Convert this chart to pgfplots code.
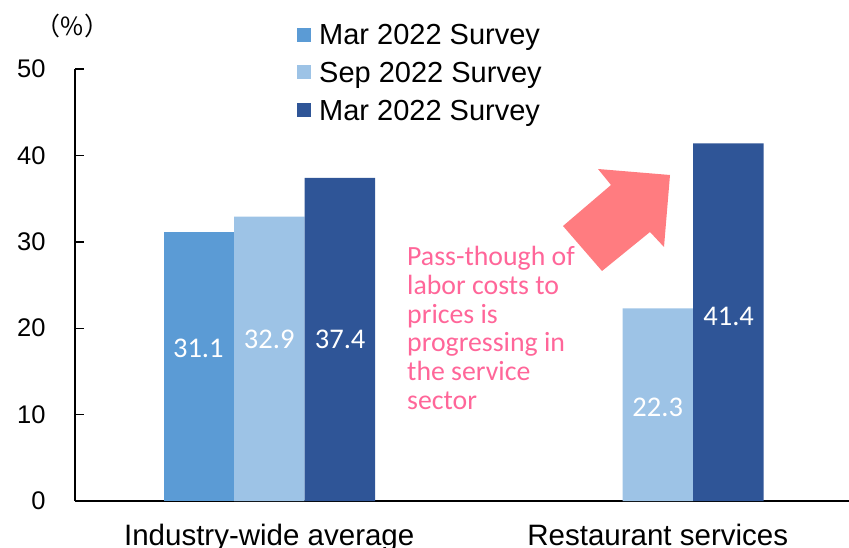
\documentclass[border=0pt]{standalone}
\usepackage{fontspec}
\setmainfont{Liberation Sans}
\newfontfamily\calf{Carlito}
\newfontfamily\cjkf{Noto Sans CJK JP}
\usepackage{pgfplots}
\pgfplotsset{compat=1.18}
\definecolor{cA}{HTML}{5B9BD5}
\definecolor{cB}{HTML}{9DC3E6}
\definecolor{cC}{HTML}{2F5597}
\definecolor{arrowc}{HTML}{FF7C80}
\definecolor{pinktxt}{HTML}{FF6699}
\pgfplotsset{sqleg/.style={legend image code/.code={\fill[##1] (0pt,-6pt) rectangle (14pt,8pt);}}}
\begin{document}
\begin{tikzpicture}[x=1pt,y=1pt]
\path[use as bounding box] (0,0) rectangle (849,-548);
\begin{axis}[
 at={(75pt,-501pt)}, anchor=south west,
 scale only axis, width=777pt, height=432pt,
 xmin=-0.5, xmax=1.5, ymin=0, ymax=50,
 axis x line*=bottom, axis y line*=left,
 axis line style={line width=1.4pt, black},
 ybar=0pt, bar width=70.5pt,
 xtick={0,1}, xticklabels={Industry-wide average, Restaurant services},
 xtick style={draw=none},
 ytick={0,10,20,30,40,50},
 tick align=inside, major tick length=9pt,
 ytick style={line width=1.4pt, black},
 yticklabel style={font=\fontsize{25.5}{28}\selectfont, xshift=-26pt},
 xticklabel style={font=\fontsize{29.5}{32}\selectfont, yshift=-20pt},
 /pgf/number format/assume math mode=true,
 legend cell align=left,
 legend style={at={(0.2857,1.103)}, anchor=north west, draw=none, fill=none,
   inner sep=0pt, row sep=16pt, font=\fontsize{29}{32}\selectfont,
   nodes={inner sep=0pt}, /tikz/every odd column/.style={column sep=8pt}},
]
\addplot[fill=cA, draw=none, sqleg] coordinates {(0,31.1)};
\addplot[fill=cB, draw=none, sqleg] coordinates {(0,32.9) (1,22.3)};
\addplot[fill=cC, draw=none, sqleg] coordinates {(0,37.4) (1,41.4)};
\legend{Mar 2022 Survey, Sep 2022 Survey, Mar 2022 Survey}
\begin{scope}[every node/.style={text=white, font=\calf\fontsize{28.5}{30}\selectfont}]
\node at (axis cs:-0.1825,17.7) {31.1};
\node at (axis cs:0,18.75) {32.9};
\node at (axis cs:0.1825,18.75) {37.4};
\node at (axis cs:1,10.8) {22.3};
\node at (axis cs:1.1825,21.4) {41.4};
\end{scope}
\end{axis}
\fill[arrowc] (563,-226) -- (611,-185) -- (598,-169) -- (670,-175) -- (664,-247) -- (650,-232) -- (602,-271) -- cycle;
\node[anchor=north west, inner sep=0pt, align=left, text=pinktxt, font=\calf\fontsize{27.8}{28.8}\selectfont] at (407,-246) {Pass-though of\\labor costs to\\prices is\\progressing in\\the service\\sector};
\node[font=\cjkf\fontsize{25}{25}\selectfont] at (72.5,-26) {（\%）};
\end{tikzpicture}
\end{document}
